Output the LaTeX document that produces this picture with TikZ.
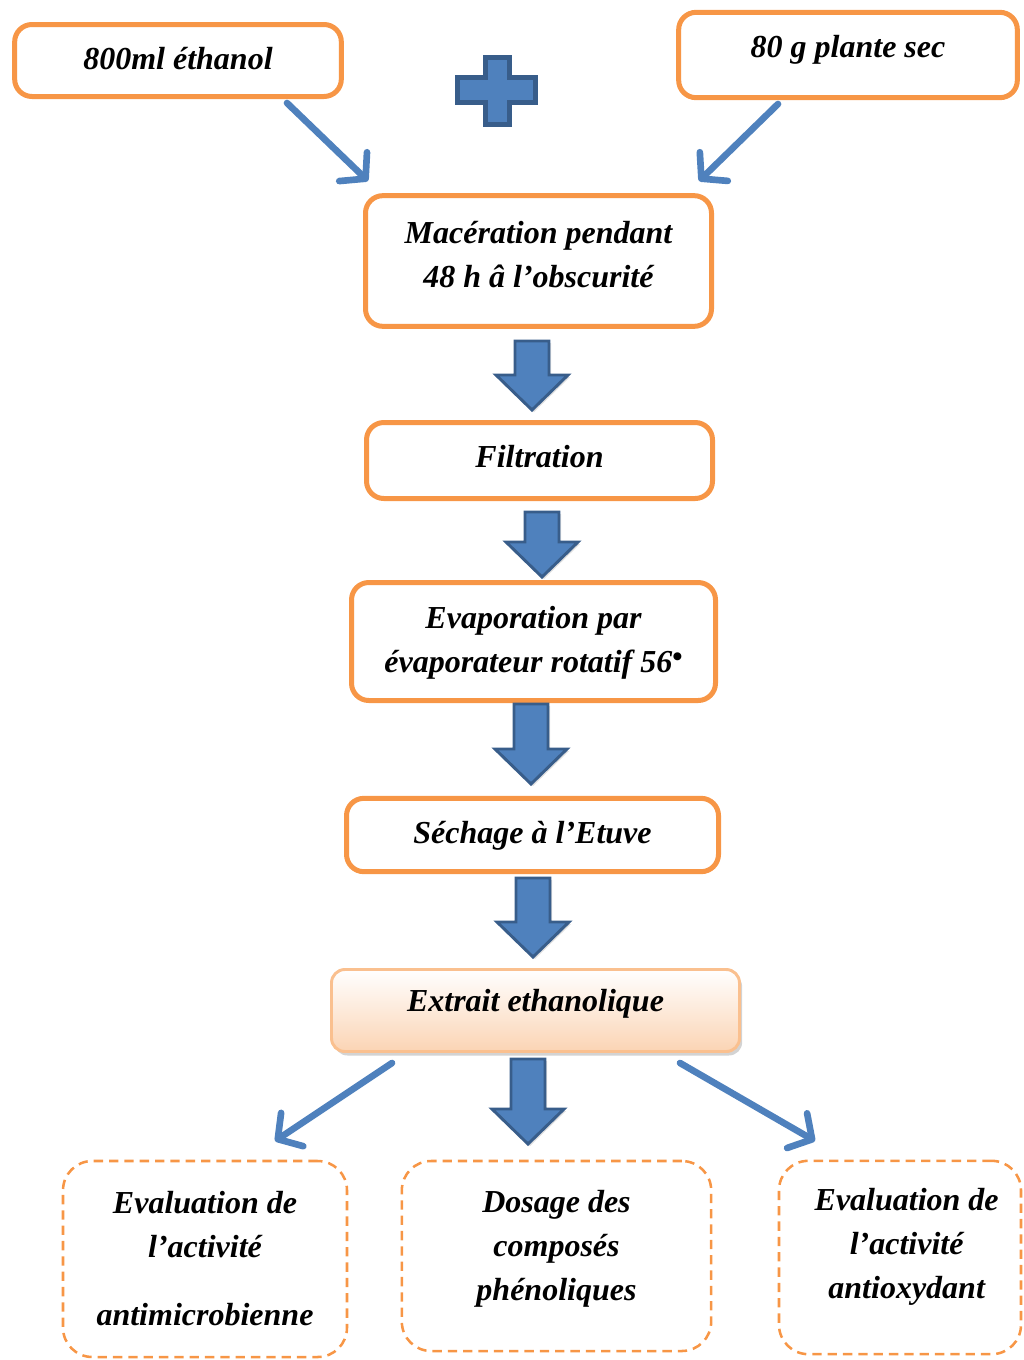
\documentclass[tikz,border=0pt]{standalone}
\usepackage{fontspec}
\setmainfont{Liberation Serif}
\usetikzlibrary{arrows.meta,shadows}
\definecolor{orng}{HTML}{F79646}
\definecolor{bfill}{HTML}{4F81BD}
\definecolor{bline}{HTML}{385D8A}
\definecolor{peach}{HTML}{FBD4B4}
\definecolor{peachline}{HTML}{FAC08F}
\tikzset{
 txt/.style={font=\fontsize{24}{33}\selectfont\bfseries\itshape, align=center, text=black},
 solidbox/.style={txt, draw=orng, line width=3.75pt, rounded corners=13pt, fill=white, inner sep=0pt},
 dashbox/.style={txt, draw=orng, line width=1.9pt, dash pattern=on 7pt off 4.5pt, rounded corners=22pt, inner sep=0pt},
 resultbox/.style={txt, draw=peachline, line width=2.2pt, rounded corners=10pt, top color=white, bottom color=peach, inner sep=0pt,
   drop shadow={shadow xshift=2pt, shadow yshift=-3pt, opacity=0.35}},
 thinarr/.style={draw=bfill, line width=5pt, line cap=round,
   -{Straight Barb[length=13pt,width=30pt,line cap=round,line join=round]}},
 blockarr/.style={fill=bfill, draw=bline, line width=2.2pt, line join=miter,
   drop shadow={shadow xshift=1.5pt, shadow yshift=-1.5pt, opacity=0.25}},
}
\newcommand\barrow[3]{\draw[blockarr] (#1-17,#2) -- (#1-17,#3-35) -- (#1-36,#3-35) -- (#1,#3) -- (#1+36,#3-35) -- (#1+17,#3-35) -- (#1+17,#2) -- cycle;}
% #1 = raise of last baseline above node centre, #2 = lines
\newcommand\placetxt[2]{\raisebox{#1}[0pt][0pt]{\makebox[0pt]{\parbox[b]{260pt}{\centering #2}}}}
\begin{document}
\begin{tikzpicture}[x=0.75pt,y=-0.75pt]
\useasboundingbox (0,0) rectangle (1024,1360);
% boxes
\node[solidbox, minimum width=245pt, minimum height=54pt] (eth) at (178,60.5) {\placetxt{-7.1pt}{800ml éthanol}};
\node[solidbox, minimum width=254pt, minimum height=64pt] (plante) at (848,55) {\placetxt{-1.5pt}{80 g plante sec}};
\node[solidbox, minimum width=259.5pt, minimum height=98pt] (mac) at (538.5,261) {\placetxt{-20.2pt}{Macération pendant\\48 h â l’obscurité}};
\node[solidbox, minimum width=259.5pt, minimum height=57pt] (filt) at (539.5,460.5) {\placetxt{-5.6pt}{Filtration}};
\node[solidbox, minimum width=273pt, minimum height=88.5pt] (evap) at (533.5,641.5) {\placetxt{-23.6pt}{Evaporation par\\évaporateur rotatif 56\raisebox{5pt}{\fontsize{22}{22}\selectfont\upshape\textbullet}}};
\node[solidbox, minimum width=279pt, minimum height=55pt] (sech) at (532.5,835) {\placetxt{-6pt}{Séchage à l’Etuve}};
\node[resultbox, minimum width=306pt, minimum height=61.5pt] (extr) at (535.5,1010.5) {\placetxt{-1.1pt}{Extrait ethanolique}};
\node[dashbox, minimum width=213pt, minimum height=147pt] (amic) at (205,1259) {\placetxt{-50.2pt}{Evaluation de\\l’activité\\[18pt]antimicrobienne}};
\node[dashbox, minimum width=232pt, minimum height=142.5pt] (dos) at (556.5,1256) {\placetxt{-33pt}{Dosage des\\composés\\phénoliques}};
\node[dashbox, minimum width=181.5pt, minimum height=145pt] (aox) at (900,1257.5) {\placetxt{-31.1pt}{\hspace*{10pt}Evaluation de\\\hspace*{10pt}l’activité\\\hspace*{10pt}antioxydant}};
% plus sign
\draw[blockarr, line width=3.2pt] (485.5,57.5) -- (509.5,57.5) -- (509.5,77.5) -- (535.5,77.5) -- (535.5,102.5) -- (509.5,102.5) -- (509.5,124.5) -- (485.5,124.5) -- (485.5,102.5) -- (457.5,102.5) -- (457.5,77.5) -- (485.5,77.5) -- cycle;
% thin arrows
\coordinate (t1s) at (287,103); \coordinate (t1e) at (368,181);
\coordinate (t2s) at (778,104); \coordinate (t2e) at (699,181);
\coordinate (t3s) at (392,1063); \coordinate (t3e) at (275,1141);
\coordinate (t4s) at (680,1063); \coordinate (t4e) at (815,1141);
\draw[thinarr] (t1s) -- (t1e);
\draw[thinarr] (t2s) -- (t2e);
\draw[thinarr] (t3s) -- (t3e);
\draw[thinarr] (t4s) -- (t4e);
% block arrows
\barrow{532}{341}{410}
\barrow{542}{512}{577}
\barrow{531}{704}{784}
\barrow{533}{878}{957}
\barrow{528}{1059}{1144}
\end{tikzpicture}
\end{document}
